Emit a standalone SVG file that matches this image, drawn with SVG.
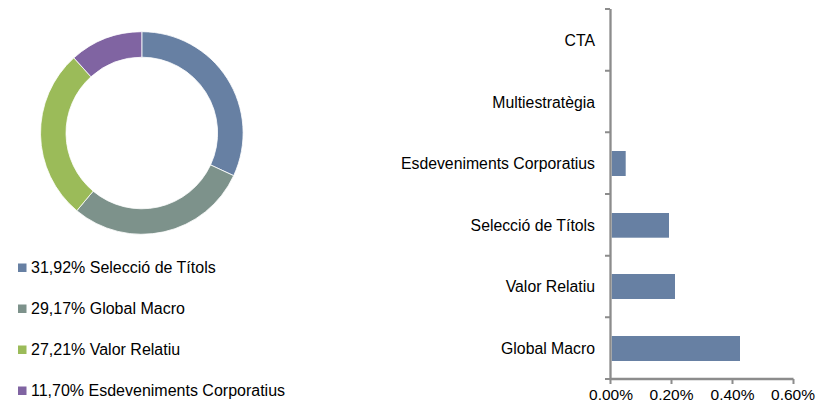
<svg xmlns="http://www.w3.org/2000/svg" width="819" height="404" viewBox="0 0 819 404">
<style>
text{font-family:"Liberation Sans",Arial,sans-serif;fill:#000}
.leg{font-size:16px}
.cat{font-size:15.8px;text-anchor:end}
.tick{font-size:15.5px;text-anchor:middle}
.seg{stroke:#fff;stroke-width:0.8}
.bar{fill:#6780A3}
.axis{stroke:#8c8c8c;stroke-width:2.3;fill:none}
.tk{stroke:#8c8c8c;stroke-width:2;fill:none}
</style>
<rect width="819" height="404" fill="#fff"/>
<g id="donut">
<path class="seg" fill="#6780A3" d="M141.8,31.7 A101.3,101.3 0 0 1 233.67,175.67 L210.55,164.93 A75.8,75.8 0 0 0 141.8,57.2 Z"/>
<path class="seg" fill="#7D928B" d="M233.67,175.67 A101.3,101.3 0 0 1 76.8,210.68 L93.16,191.13 A75.8,75.8 0 0 0 210.55,164.93 Z"/>
<path class="seg" fill="#9BBB59" d="M76.8,210.68 A101.3,101.3 0 0 1 73.87,57.86 L90.97,76.77 A75.8,75.8 0 0 0 93.16,191.13 Z"/>
<path class="seg" fill="#8064A2" d="M73.87,57.86 A101.3,101.3 0 0 1 141.8,31.7 L141.8,57.2 A75.8,75.8 0 0 0 90.97,76.77 Z"/>
</g>
<g id="legend">
<rect x="18" y="263.5" width="8.5" height="8.5" fill="#6780A3"/>
<text class="leg" x="31" y="272.5">31,92% Selecció de Títols</text>
<rect x="18" y="304.5" width="8.5" height="8.5" fill="#7D928B"/>
<text class="leg" x="31" y="313.5">29,17% Global Macro</text>
<rect x="18" y="345.5" width="8.5" height="8.5" fill="#9BBB59"/>
<text class="leg" x="31" y="354.5">27,21% Valor Relatiu</text>
<rect x="18" y="386.5" width="8.5" height="8.5" fill="#8064A2"/>
<text class="leg" x="31" y="395.5">11,70% Esdeveniments Corporatius</text>
</g>
<g id="bars">
<rect class="bar" x="611.7" y="151" width="14" height="25"/>
<rect class="bar" x="611.7" y="213" width="57.3" height="24.7"/>
<rect class="bar" x="611.7" y="274" width="63.3" height="25"/>
<rect class="bar" x="611.7" y="336" width="128.3" height="25"/>
</g>
<g id="axes">
<path class="axis" d="M610.5,9 V379 H793.5"/>
<path class="tk" d="M605,9H610M605,70.7H610M605,132.3H610M605,194H610M605,255.7H610M605,317.3H610M605,379H610"/>
<path class="tk" d="M610.5,379V384M671.5,379V384M732.5,379V384M793.5,379V384"/>
</g>
<g id="labels">
<text class="cat" x="595" y="46">CTA</text>
<text class="cat" x="595" y="107.5">Multiestratègia</text>
<text class="cat" x="595" y="169">Esdeveniments Corporatius</text>
<text class="cat" x="595" y="230.5">Selecció de Títols</text>
<text class="cat" x="595" y="292">Valor Relatiu</text>
<text class="cat" x="595" y="354">Global Macro</text>
<text class="tick" x="611" y="400">0.00%</text>
<text class="tick" x="671.5" y="400">0.20%</text>
<text class="tick" x="732.5" y="400">0.40%</text>
<text class="tick" x="793" y="400">0.60%</text>
</g>
</svg>
